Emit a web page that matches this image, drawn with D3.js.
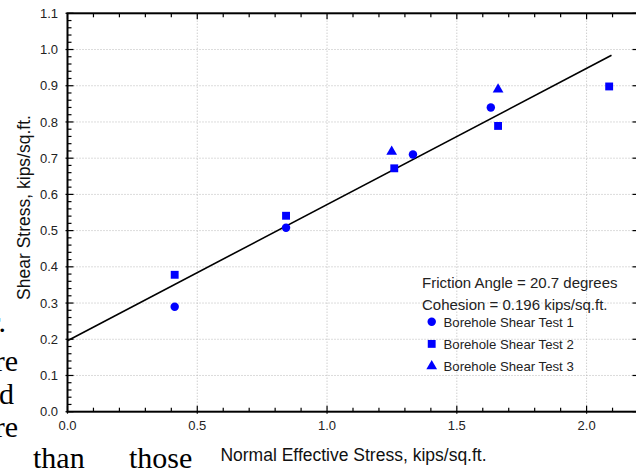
<!DOCTYPE html>
<html>
<head>
<meta charset="utf-8">
<script src="https://cdn.jsdelivr.net/npm/d3@7"></script>
<style>
  body { margin: 0; background: #fff; }
  svg { display: block; font-family: "Liberation Sans", Arial, sans-serif; }
</style>
</head>
<body>
<svg id="chart" width="636" height="470"></svg>
<script>
// ===== Data =====
const test1X = [0.413, 0.842, 1.331, 1.631];
const test1Y = [0.290, 0.508, 0.710, 0.840];
const test2X = [0.413, 0.842, 1.259, 1.659, 2.087];
const test2Y = [0.378, 0.541, 0.672, 0.789, 0.898];
const test3X = [1.249, 1.659];
const test3Y = [0.718, 0.890];
const fitX = [0, 2.096];
const fitY = [0.196, 0.984];
const xTicks = [0, 0.5, 1.0, 1.5, 2.0];
const yTicks = [0, 0.1, 0.2, 0.3, 0.4, 0.5, 0.6, 0.7, 0.8, 0.9, 1.0, 1.1];
const legendLines = ["Friction Angle = 20.7 degrees", "Cohesion = 0.196 kips/sq.ft."];
const seriesNames = ["Borehole Shear Test 1", "Borehole Shear Test 2", "Borehole Shear Test 3"];
// background page text bleeding into the crop
const pageText = [
  { t: "r.", x: 6, y: 332, anchor: "end" },
  { t: "re", x: 18, y: 371, anchor: "end" },
  { t: "d", x: 14, y: 404, anchor: "end" },
  { t: "re", x: 18, y: 437, anchor: "end" },
  { t: "than", x: 33, y: 468, anchor: "start" },
  { t: "those", x: 129, y: 468, anchor: "start" }
];

const svg = d3.select("#chart");
const x = d3.scaleLinear().domain([0, 2.2]).range([67.5, 638.5]);
const y = d3.scaleLinear().domain([0, 1.1]).range([411.7, 13.3]);
const blue = "#0000ff";

// page text
svg.selectAll("text.page").data(pageText).enter().append("text")
  .attr("class", "page")
  .attr("x", d => d.x).attr("y", d => d.y)
  .attr("text-anchor", d => d.anchor)
  .style("font-family", "'Liberation Serif', 'Times New Roman', serif")
  .style("font-size", "30px")
  .attr("fill", "#000")
  .text(d => d.t);

// ===== Grid =====
const grid = svg.append("g").attr("stroke", "#b8b8b8").attr("stroke-dasharray", "1,2").attr("stroke-width", 1);
xTicks.filter(v => v > 0).forEach(v => {
  grid.append("line").attr("x1", x(v)).attr("x2", x(v)).attr("y1", y(0)).attr("y2", y(1.1));
});
yTicks.filter(v => v > 0 && v < 1.1).forEach(v => {
  grid.append("line").attr("x1", x(0)).attr("x2", x(2.2)).attr("y1", y(v)).attr("y2", y(v));
});

// ===== Axes (ticks inward, on all four sides) =====
const tk = svg.append("g").attr("stroke", "#000").attr("stroke-width", 1.2);
d3.range(0, 22.5).forEach(i => {
  const v = i / 10;
  const major = i % 5 === 0;
  const len = major ? 6 : 4;
  tk.append("line").attr("x1", x(v)).attr("x2", x(v)).attr("y1", y(0) + (major ? 2 : 0)).attr("y2", y(0) - len);
  tk.append("line").attr("x1", x(v)).attr("x2", x(v)).attr("y1", y(1.1)).attr("y2", y(1.1) + len);
});
d3.range(0, 56).forEach(i => {
  const v = i / 50;
  const major = i % 5 === 0;
  tk.append("line").attr("x1", x(0) - (major ? 2 : 0)).attr("x2", x(0) + (major ? 6 : 4)).attr("y1", y(v)).attr("y2", y(v));
  if (major) tk.append("line").attr("x1", x(2.2)).attr("x2", x(2.2) - 6).attr("y1", y(v)).attr("y2", y(v));
});

svg.append("rect")
  .attr("x", x(0)).attr("y", y(1.1))
  .attr("width", x(2.2) - x(0)).attr("height", y(0) - y(1.1))
  .attr("fill", "none").attr("stroke", "#000").attr("stroke-width", 2);

// tick labels
svg.selectAll("text.xt").data(xTicks).enter().append("text")
  .attr("class", "xt")
  .attr("x", d => x(d)).attr("y", 430)
  .attr("text-anchor", "middle")
  .style("font-size", "13px").attr("fill", "#222")
  .text(d => d.toFixed(1));
svg.selectAll("text.yt").data(yTicks).enter().append("text")
  .attr("class", "yt")
  .attr("x", 58).attr("y", d => y(d))
  .attr("dy", "0.35em")
  .attr("text-anchor", "end")
  .style("font-size", "13px").attr("fill", "#222")
  .text(d => d.toFixed(1));

// axis titles
svg.append("text")
  .attr("x", 353.5).attr("y", 461)
  .attr("text-anchor", "middle")
  .style("font-size", "17.5px").attr("fill", "#111")
  .text("Normal Effective Stress, kips/sq.ft.");
svg.append("text")
  .attr("transform", "translate(29.5,207.5) rotate(-90)")
  .attr("text-anchor", "middle")
  .style("font-size", "17.5px").attr("fill", "#111")
  .text("Shear Stress, kips/sq.ft.");

// ===== Fit line =====
svg.append("path")
  .datum(fitX.map((v, i) => [v, fitY[i]]))
  .attr("fill", "none").attr("stroke", "#000").attr("stroke-width", 1.6)
  .attr("d", d3.line().x(d => x(d[0])).y(d => y(d[1])));

// ===== Points =====
const circ = d3.symbol().type(d3.symbolCircle).size(56);
const sq = d3.symbol().type(d3.symbolSquare).size(62);
const tri = d3.symbol().type(d3.symbolTriangle).size(50);

function drawSeries(xs, ys, sym) {
  svg.append("g").selectAll("path").data(xs.map((v, i) => [v, ys[i]])).enter().append("path")
    .attr("transform", d => `translate(${x(d[0])},${y(d[1])})`)
    .attr("d", sym)
    .attr("fill", blue);
}
drawSeries(test1X, test1Y, circ);
drawSeries(test2X, test2Y, sq);
drawSeries(test3X, test3Y, tri);

// ===== Legend =====
svg.selectAll("text.lh").data(legendLines).enter().append("text")
  .attr("class", "lh")
  .attr("x", 422).attr("y", (d, i) => 288 + i * 21.5)
  .style("font-size", "15px").attr("fill", "#222")
  .text(d => d);
const syms = [circ, sq, tri];
seriesNames.forEach((name, i) => {
  const cy = 321.7 + i * 22.2;
  svg.append("path")
    .attr("transform", `translate(431.7,${cy})`)
    .attr("d", syms[i]).attr("fill", blue);
  svg.append("text")
    .attr("x", 443.5).attr("y", cy + 5)
    .style("font-size", "13.2px").attr("fill", "#222")
    .text(name);
});
</script>
</body>
</html>
